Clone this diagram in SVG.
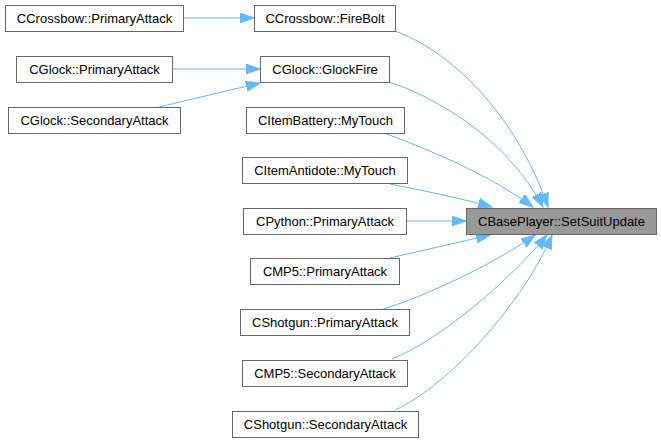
<svg xmlns="http://www.w3.org/2000/svg" width="661" height="443" viewBox="0 0 661 443">
<style>
.n rect{fill:#ffffff;stroke:#666666;stroke-width:1}
.t rect{fill:#999999;stroke:#666666;stroke-width:1}
text{font-family:"Liberation Sans",Arial,sans-serif;font-size:13px;fill:#000000;text-anchor:middle}
.e path{fill:none;stroke:#63b8ff;stroke-width:1;marker-end:url(#ah)}
</style>
<defs>
<marker id="ah" markerUnits="userSpaceOnUse" markerWidth="15" markerHeight="11" viewBox="0 0 15 11" refX="14" refY="5.5" orient="auto">
<path d="M0,0.5 L14,5.5 L0,10.5 z" fill="#63b8ff" stroke="#63b8ff" stroke-width="1"/>
</marker>
</defs>
<rect width="661" height="443" fill="#ffffff"/>
<g id="edges" class="e">
<path d="M183,18 L254,18"/>
<path d="M172,69 L260,69"/>
<path d="M159,107 L260,83"/>
<path d="M395,31 C460,55 520,125 548,207"/>
<path d="M389,82 C430,95 505,135 543,207"/>
<path d="M384,133 C430,150 490,175 533,207"/>
<path d="M390,184 C420,190 460,198 492,207"/>
<path d="M406,221 L466,221"/>
<path d="M390,258 C420,251 460,242 490,235"/>
<path d="M383,309 C430,295 500,260 535,235"/>
<path d="M392,359 C440,340 510,280 547,235"/>
<path d="M395,410 C450,385 525,300 552,235"/>
</g>
<g id="n1" class="n"><rect x="5.5" y="5.5" width="178" height="26"/><text x="94.5" y="23">CCrossbow::PrimaryAttack</text></g>
<g id="n2" class="n"><rect x="254.5" y="5.5" width="141" height="26"/><text x="325" y="23">CCrossbow::FireBolt</text></g>
<g id="n3" class="n"><rect x="16.5" y="56.5" width="156" height="26"/><text x="94.5" y="74">CGlock::PrimaryAttack</text></g>
<g id="n4" class="n"><rect x="260.5" y="56.5" width="129" height="26"/><text x="325" y="74">CGlock::GlockFire</text></g>
<g id="n5" class="n"><rect x="8.5" y="107.5" width="172" height="26"/><text x="94.5" y="125">CGlock::SecondaryAttack</text></g>
<g id="n6" class="n"><rect x="246.5" y="107.5" width="158" height="26"/><text x="325.5" y="125">CItemBattery::MyTouch</text></g>
<g id="n7" class="n"><rect x="242.5" y="157.5" width="165" height="26"/><text x="325" y="175">CItemAntidote::MyTouch</text></g>
<g id="n8" class="n"><rect x="243.5" y="208.5" width="163" height="26"/><text x="325" y="226">CPython::PrimaryAttack</text></g>
<g id="n9" class="n"><rect x="250.5" y="258.5" width="149" height="26"/><text x="325" y="276">CMP5::PrimaryAttack</text></g>
<g id="n10" class="n"><rect x="240.5" y="309.5" width="169" height="26"/><text x="325" y="327">CShotgun::PrimaryAttack</text></g>
<g id="n11" class="n"><rect x="242.5" y="360.5" width="165" height="26"/><text x="325" y="378">CMP5::SecondaryAttack</text></g>
<g id="n12" class="n"><rect x="232.5" y="411.5" width="186" height="26"/><text x="325.5" y="429">CShotgun::SecondaryAttack</text></g>
<g id="n13" class="t"><rect x="466.5" y="208.5" width="190" height="26"/><text x="561.5" y="226">CBasePlayer::SetSuitUpdate</text></g>
</svg>
